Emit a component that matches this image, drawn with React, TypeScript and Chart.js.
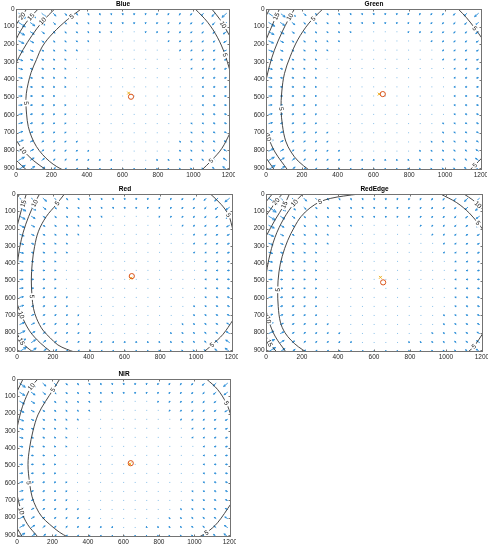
import React, { useEffect, useRef } from "react";
import { Chart, registerables } from "chart.js";

Chart.register(...registerables);

type P = [number, number];
type Label = [string, number, number];

// ---- shared axes / sampling grid ----
const X_MAX = 1206;
const Y_MAX = 912;
const xTickValues = [0, 200, 400, 600, 800, 1000, 1200];
const yTickValues = [0, 100, 200, 300, 400, 500, 600, 700, 800, 900];
const gridX = [16, 81, 146, 211, 276, 341, 406, 471, 536, 601, 666, 731, 796, 861, 926, 991, 1056, 1121, 1186];
const gridY = [25, 77, 129, 181, 233, 285, 337, 389, 441, 493, 545, 597, 649, 701, 753, 805, 857, 909];

// ---- Blue ----
const blueCenter: P = [648, 497];
const bluePrincipal: P = [635, 476];
const blueProfile: P[] = [[0, 0], [150, 0.5], [300, 1.5], [450, 3], [585, 5], [665, 10], [722, 15], [768, 20], [850, 28]];
const blueContour5Left: P[] = [[367, 0], [290, 60], [209, 136], [150, 210], [115, 287], [85, 360], [69, 420], [58, 480], [56, 533], [60, 600], [69, 665], [88, 725], [115, 779], [150, 825], [190, 864], [230, 893], [265, 912]];
const blueContour10TopLeft: P[] = [[218, 0], [150, 70], [90, 150], [40, 230], [0, 306]];
const blueContour10BottomLeft: P[] = [[0, 741], [40, 800], [100, 860], [171, 912]];
const blueContour15TopLeft: P[] = [[125, 0], [70, 60], [25, 125], [0, 174]];
const blueContour15BottomLeft: P[] = [[0, 855], [30, 885], [60, 912]];
const blueContour20TopLeft: P[] = [[60, 0], [30, 45], [0, 89]];
const blueContour5TopRight: P[] = [[1010, 0], [1080, 75], [1135, 160], [1175, 250], [1206, 350]];
const blueContour10TopRight: P[] = [[1103, 0], [1150, 60], [1206, 155]];
const blueContour5BottomRight: P[] = [[1047, 912], [1100, 860], [1160, 790], [1206, 703]];
const blueLabels: Label[] = [["20", 34, 40], ["15", 84, 45], ["10", 150, 68], ["5", 313, 42], ["10", 1167, 89], ["5", 1178, 260], ["5", 57, 533], ["10", 40, 800], ["5", 1100, 860]];

// ---- Green ----
const greenCenter: P = [652, 482];
const greenPrincipal: P = [632, 482];
const greenProfile: P[] = [[0, 0], [150, 0.5], [300, 1.5], [450, 3], [600, 5], [675, 10], [737, 15], [780, 20], [860, 28]];
const greenContour5Left: P[] = [[317, 0], [240, 80], [177, 175], [135, 270], [103, 366], [88, 470], [84, 566], [92, 660], [110, 748], [140, 810], [180, 862], [240, 912]];
const greenContour10TopLeft: P[] = [[159, 0], [125, 60], [90, 130], [47, 233], [20, 320], [0, 404]];
const greenContour10BottomLeft: P[] = [[0, 690], [13, 728], [50, 810], [121, 912]];
const greenContour15TopLeft: P[] = [[75, 0], [40, 80], [0, 175]];
const greenContour15BottomLeft: P[] = [[0, 843], [47, 912]];
const greenContour20TopLeft: P[] = [[20, 0], [0, 40]];
const greenContour5TopRight: P[] = [[1073, 0], [1120, 50], [1166, 109], [1206, 166]];
const greenContour5BottomRight: P[] = [[1138, 912], [1166, 885], [1206, 843]];
const greenLabels: Label[] = [["15", 57, 42], ["10", 133, 45], ["5", 264, 55], ["5", 1166, 109], ["5", 85, 566], ["10", 13, 728], ["5", 1166, 885]];

// ---- Red ----
const redCenter: P = [641, 474];
const redPrincipal: P = [636, 486];
const redProfile: P[] = [[0, 0], [150, 0.5], [300, 1.5], [450, 3], [585, 5], [658, 10], [720, 15], [765, 20], [850, 29]];
const redContour5Left: P[] = [[265, 0], [220, 60], [163, 131], [120, 215], [98, 304], [85, 400], [80, 496], [84, 592], [92, 660], [110, 720], [144, 785], [185, 830], [228, 871], [275, 895], [320, 912]];
const redContour10TopLeft: P[] = [[126, 0], [98, 54], [65, 130], [35, 220], [15, 310], [0, 419]];
const redContour10BottomLeft: P[] = [[0, 631], [24, 698], [70, 790], [130, 860], [191, 912]];
const redContour15TopLeft: P[] = [[52, 0], [25, 90], [0, 188]];
const redContour15BottomLeft: P[] = [[0, 804], [24, 852], [55, 885], [89, 912]];
const redContour20TopLeft: P[] = [[15, 0], [0, 25]];
const redContour5TopRight: P[] = [[1080, 0], [1140, 60], [1181, 121], [1206, 208]];
const redContour5BottomRight: P[] = [[1043, 912], [1089, 871], [1150, 810], [1206, 727]];
const redLabels: Label[] = [["15", 35, 55], ["10", 98, 54], ["5", 225, 54], ["5", 1181, 121], ["5", 84, 592], ["10", 24, 698], ["15", 24, 852], ["5", 1089, 871]];

// ---- RedEdge ----
const redEdgeCenter: P = [651, 510];
const redEdgePrincipal: P = [636, 481];
const redEdgeProfile: P[] = [[0, 0], [150, 0.5], [300, 1.5], [450, 3], [590, 5], [668, 10], [718, 15], [757, 20], [840, 30]];
const redEdgeContour5Left: P[] = [[519, 0], [430, 12], [360, 25], [300, 45], [245, 80], [195, 130], [158, 190], [120, 270], [90, 360], [72, 450], [65, 553], [68, 650], [80, 740], [105, 800], [140, 845], [180, 882], [223, 912]];
const redEdgeContour10TopLeft: P[] = [[204, 0], [158, 52], [100, 140], [50, 250], [15, 380], [0, 470]];
const redEdgeContour10BottomLeft: P[] = [[0, 669], [13, 726], [50, 820], [111, 912]];
const redEdgeContour15TopLeft: P[] = [[130, 0], [102, 62], [50, 150], [0, 245]];
const redEdgeContour15BottomLeft: P[] = [[0, 820], [19, 861], [60, 912]];
const redEdgeContour20TopLeft: P[] = [[90, 0], [56, 42], [25, 90], [0, 125]];
const redEdgeContour25TopLeft: P[] = [[35, 0], [0, 45]];
const redEdgeContour5TopRight: P[] = [[970, 0], [1060, 50], [1130, 110], [1178, 168], [1206, 206]];
const redEdgeContour10TopRight: P[] = [[1100, 0], [1150, 35], [1178, 62], [1206, 91]];
const redEdgeContour5BottomRight: P[] = [[1122, 912], [1156, 880], [1206, 803]];
const redEdgeLabels: Label[] = [["20", 56, 42], ["15", 102, 62], ["10", 158, 52], ["5", 300, 45], ["10", 1178, 62], ["5", 1178, 168], ["5", 65, 553], ["10", 13, 726], ["15", 19, 861], ["5", 1156, 880]];

// ---- NIR ----
const nirCenter: P = [641, 486];
const nirPrincipal: P = [636, 490];
const nirProfile: P[] = [[0, 0], [150, 0.5], [300, 1.5], [450, 3], [593, 5], [680, 10], [760, 15], [820, 20], [900, 27]];
const nirContour5Left: P[] = [[241, 0], [203, 63], [160, 130], [118, 207], [90, 300], [71, 398], [62, 494], [71, 600], [85, 680], [109, 743], [140, 795], [184, 839], [240, 885], [285, 912]];
const nirContour10TopLeft: P[] = [[118, 0], [81, 44], [45, 120], [20, 195], [0, 283]];
const nirContour10BottomLeft: P[] = [[0, 667], [24, 762], [60, 840], [118, 912]];
const nirContour15TopLeft: P[] = [[34, 0], [0, 73]];
const nirContour15BottomLeft: P[] = [[0, 860], [30, 912]];
const nirContour5TopRight: P[] = [[1068, 0], [1130, 60], [1180, 140], [1206, 210]];
const nirContour5BottomRight: P[] = [[1026, 912], [1068, 887], [1130, 830], [1206, 720]];
const nirLabels: Label[] = [["10", 81, 44], ["5", 203, 63], ["5", 1180, 140], ["5", 66, 600], ["10", 24, 762], ["5", 1068, 887]];

// ---- layout (page pixels of each plot box) ----
type Rect = { l: number; t: number; r: number; b: number };
type Panel = {
  title: string;
  rect: Rect;
  center: P;
  principal: P;
  profile: P[];
  contours: P[][];
  labels: Label[];
};

const panels: Panel[] = [
  {
    title: "Blue", rect: { l: 16, t: 9, r: 231, b: 170 }, center: blueCenter, principal: bluePrincipal, profile: blueProfile,
    contours: [blueContour5Left, blueContour10TopLeft, blueContour10BottomLeft, blueContour15TopLeft, blueContour15BottomLeft, blueContour20TopLeft, blueContour5TopRight, blueContour10TopRight, blueContour5BottomRight],
    labels: blueLabels,
  },
  {
    title: "Green", rect: { l: 266, t: 9, r: 483, b: 170 }, center: greenCenter, principal: greenPrincipal, profile: greenProfile,
    contours: [greenContour5Left, greenContour10TopLeft, greenContour10BottomLeft, greenContour15TopLeft, greenContour15BottomLeft, greenContour20TopLeft, greenContour5TopRight, greenContour5BottomRight],
    labels: greenLabels,
  },
  {
    title: "Red", rect: { l: 17, t: 194, r: 234, b: 352 }, center: redCenter, principal: redPrincipal, profile: redProfile,
    contours: [redContour5Left, redContour10TopLeft, redContour10BottomLeft, redContour15TopLeft, redContour15BottomLeft, redContour20TopLeft, redContour5TopRight, redContour5BottomRight],
    labels: redLabels,
  },
  {
    title: "RedEdge", rect: { l: 266, t: 194, r: 484, b: 352 }, center: redEdgeCenter, principal: redEdgePrincipal, profile: redEdgeProfile,
    contours: [redEdgeContour5Left, redEdgeContour10TopLeft, redEdgeContour10BottomLeft, redEdgeContour15TopLeft, redEdgeContour15BottomLeft, redEdgeContour20TopLeft, redEdgeContour25TopLeft, redEdgeContour5TopRight, redEdgeContour10TopRight, redEdgeContour5BottomRight],
    labels: redEdgeLabels,
  },
  {
    title: "NIR", rect: { l: 17, t: 379, r: 232, b: 537 }, center: nirCenter, principal: nirPrincipal, profile: nirProfile,
    contours: [nirContour5Left, nirContour10TopLeft, nirContour10BottomLeft, nirContour15TopLeft, nirContour15BottomLeft, nirContour5TopRight, nirContour5BottomRight],
    labels: nirLabels,
  },
];

const PAD_LEFT = 16;
const PAD_BOTTOM = 12;
const PAD_TOP = 9;
const PAD_RIGHT = 4;
const ARROW_SCALE = 0.4; // px per unit of displacement
const FONT = "'Liberation Sans', Arial, Helvetica, sans-serif";

function magnitudeAt(profile: P[], r: number): number {
  for (let i = 0; i < profile.length - 1; i++) {
    const [r0, m0] = profile[i];
    const [r1, m1] = profile[i + 1];
    if (r <= r1) return m0 + ((m1 - m0) * (r - r0)) / (r1 - r0);
  }
  const [ra, ma] = profile[profile.length - 2];
  const [rb, mb] = profile[profile.length - 1];
  return mb + ((mb - ma) * (r - rb)) / (rb - ra);
}

function makePlugin(panel: Panel) {
  return {
    id: "distortionDecor",
    beforeDatasetsDraw(chart: any) {
      const { ctx, chartArea: a, scales } = chart;
      const xs = scales.x, ys = scales.y;
      ctx.save();
      ctx.beginPath();
      ctx.rect(a.left, a.top, a.right - a.left, a.bottom - a.top);
      ctx.clip();
      const cx = xs.getPixelForValue(panel.center[0]);
      const cy = ys.getPixelForValue(panel.center[1]);
      ctx.lineWidth = 0.9;
      ctx.lineCap = "round";
      for (const gx of gridX) {
        for (const gy of gridY) {
          const px = xs.getPixelForValue(gx);
          const py = ys.getPixelForValue(gy);
          const r = Math.hypot(gx - panel.center[0], gy - panel.center[1]);
          const m = magnitudeAt(panel.profile, r);
          const L = m * ARROW_SCALE;
          const dx = cx - px, dy = cy - py;
          const n = Math.hypot(dx, dy) || 1;
          const ux = dx / n, uy = dy / n;
          if (L < 0.9) {
            ctx.fillStyle = "rgba(40,140,215,0.55)";
            ctx.fillRect(px - 0.5, py - 0.5, 1, 1);
            continue;
          }
          const tx = px + ux * L, ty = py + uy * L;
          ctx.strokeStyle = "rgb(40,140,215)";
          ctx.beginPath();
          ctx.moveTo(px, py);
          ctx.lineTo(tx, ty);
          const h = Math.max(1, 0.35 * L);
          const ang = Math.atan2(uy, ux);
          const a1 = ang + Math.PI - 0.45, a2 = ang + Math.PI + 0.45;
          ctx.moveTo(tx + Math.cos(a1) * h, ty + Math.sin(a1) * h);
          ctx.lineTo(tx, ty);
          ctx.lineTo(tx + Math.cos(a2) * h, ty + Math.sin(a2) * h);
          ctx.stroke();
        }
      }
      ctx.restore();
    },
    afterDatasetsDraw(chart: any) {
      const { ctx, chartArea: a, scales } = chart;
      const xs = scales.x, ys = scales.y;
      ctx.save();
      ctx.beginPath();
      ctx.rect(a.left, a.top, a.right - a.left, a.bottom - a.top);
      ctx.clip();
      ctx.font = `6.5px ${FONT}`;
      ctx.textAlign = "center";
      ctx.textBaseline = "middle";
      for (const [text, lx, ly] of panel.labels) {
        const px = xs.getPixelForValue(lx);
        const py = ys.getPixelForValue(ly);
        let best = Infinity, angle = 0;
        for (const c of panel.contours) {
          for (let i = 0; i < c.length - 1; i++) {
            const x0 = xs.getPixelForValue(c[i][0]), y0 = ys.getPixelForValue(c[i][1]);
            const x1 = xs.getPixelForValue(c[i + 1][0]), y1 = ys.getPixelForValue(c[i + 1][1]);
            const vx = x1 - x0, vy = y1 - y0;
            const t = Math.max(0, Math.min(1, ((px - x0) * vx + (py - y0) * vy) / (vx * vx + vy * vy || 1)));
            const d = Math.hypot(px - (x0 + t * vx), py - (y0 + t * vy));
            if (d < best) { best = d; angle = Math.atan2(vy, vx); }
          }
        }
        if (angle > Math.PI / 2) angle -= Math.PI;
        if (angle < -Math.PI / 2) angle += Math.PI;
        const w = ctx.measureText(text).width;
        ctx.save();
        ctx.translate(px, py);
        ctx.rotate(angle);
        ctx.fillStyle = "#ffffff";
        ctx.fillRect(-w / 2 - 1.5, -3.2, w + 3, 6.4);
        ctx.fillStyle = "#111111";
        ctx.fillText(text, 0, 0.3);
        ctx.restore();
      }
      ctx.restore();
    },
    afterDraw(chart: any) {
      const { ctx, chartArea: a, scales } = chart;
      const xs = scales.x, ys = scales.y;
      ctx.save();
      ctx.strokeStyle = "#737373";
      ctx.lineWidth = 1;
      ctx.strokeRect(Math.round(a.left) + 0.5, Math.round(a.top) + 0.5, Math.round(a.right - a.left) - 1, Math.round(a.bottom - a.top) - 1);
      ctx.beginPath();
      const tl = 2.5;
      for (const v of xTickValues) {
        const x = Math.round(xs.getPixelForValue(v)) + 0.5;
        ctx.moveTo(x, a.bottom); ctx.lineTo(x, a.bottom - tl);
        ctx.moveTo(x, a.top); ctx.lineTo(x, a.top + tl);
      }
      for (const v of yTickValues) {
        const y = Math.round(ys.getPixelForValue(v)) + 0.5;
        ctx.moveTo(a.left, y); ctx.lineTo(a.left + tl, y);
        ctx.moveTo(a.right, y); ctx.lineTo(a.right - tl, y);
      }
      ctx.stroke();

      // tick labels
      ctx.fillStyle = "#262626";
      ctx.font = `6.5px ${FONT}`;
      ctx.textBaseline = "middle";
      ctx.textAlign = "center";
      for (const v of xTickValues) {
        ctx.fillText(String(v), xs.getPixelForValue(v), a.bottom + 5.5);
      }
      ctx.textAlign = "right";
      for (const v of yTickValues) {
        ctx.fillText(String(v), a.left - 1.5, ys.getPixelForValue(v));
      }

      ctx.fillStyle = "#000000";
      ctx.font = `bold 6.5px ${FONT}`;
      ctx.textAlign = "center";
      ctx.fillText(panel.title, (a.left + a.right) / 2, a.top - 4.5);
      ctx.restore();
    },
  };
}

function DistortionPanel({ panel }: { panel: Panel }) {
  const ref = useRef<HTMLCanvasElement | null>(null);
  const { l, t, r, b } = panel.rect;
  const W = r - l + PAD_LEFT + PAD_RIGHT;
  const H = b - t + PAD_TOP + PAD_BOTTOM;

  useEffect(() => {
    if (!ref.current) return;
    const datasets: any[] = panel.contours.map((c) => ({
      type: "line",
      data: c.map(([x, y]) => ({ x, y })),
      borderColor: "#333333",
      borderWidth: 0.9,
      pointRadius: 0,
      tension: 0.35,
      fill: false,
      order: 3,
    }));
    datasets.push({
      type: "scatter",
      data: [{ x: panel.principal[0], y: panel.principal[1] }],
      pointStyle: "crossRot",
      pointRadius: 2,
      borderColor: "#EDB120",
      borderWidth: 1,
      order: 1,
    });
    datasets.push({
      type: "scatter",
      data: [{ x: panel.center[0], y: panel.center[1] }],
      pointStyle: "circle",
      pointRadius: 2.6,
      borderColor: "#D95319",
      backgroundColor: "rgba(0,0,0,0)",
      borderWidth: 1,
      order: 0,
    });

    const chart = new Chart(ref.current, {
      type: "scatter",
      data: { datasets },
      plugins: [makePlugin(panel)],
      options: {
        animation: false,
        responsive: false,
        devicePixelRatio: 1,
        events: [],
        layout: { padding: { top: PAD_TOP, right: PAD_RIGHT, left: PAD_LEFT, bottom: PAD_BOTTOM } },
        plugins: { legend: { display: false }, tooltip: { enabled: false }, title: { display: false } },
        scales: {
          x: {
            type: "linear",
            min: 0,
            max: X_MAX,
            grid: { display: false },
            border: { display: false },
            ticks: { display: false },
            afterBuildTicks: (s: any) => { s.ticks = xTickValues.map((v) => ({ value: v })); },
            afterFit: (s: any) => { s.height = 0; },
          },
          y: {
            type: "linear",
            reverse: true,
            min: 0,
            max: Y_MAX,
            grid: { display: false },
            border: { display: false },
            ticks: { display: false },
            afterBuildTicks: (s: any) => { s.ticks = yTickValues.map((v) => ({ value: v })); },
            afterFit: (s: any) => { s.width = 0; },
          },
        },
      } as any,
    });
    return () => chart.destroy();
  }, [panel]);

  return (
    <canvas
      ref={ref}
      width={W}
      height={H}
      style={{ position: "absolute", left: l - PAD_LEFT, top: t - PAD_TOP, width: W, height: H }}
    />
  );
}

export default function App() {
  return (
    <div style={{ position: "absolute", left: 0, top: 0, width: 489, height: 550, background: "#ffffff", overflow: "hidden" }}>
      {panels.map((p) => (
        <DistortionPanel key={p.title} panel={p} />
      ))}
    </div>
  );
}
